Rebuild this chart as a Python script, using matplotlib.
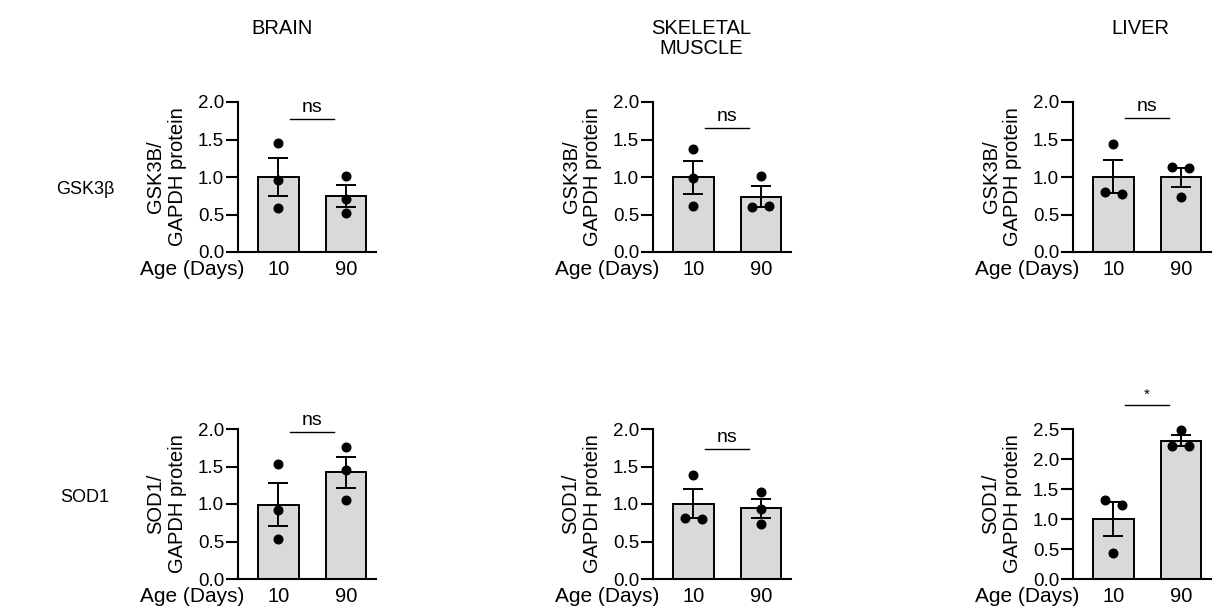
import numpy as np
import matplotlib.pyplot as plt

plt.rcParams['font.family'] = ['Liberation Sans', 'DejaVu Sans']

ages = ['10', '90']
tissues = ['BRAIN', 'SKELETAL\nMUSCLE', 'LIVER']
proteins = ['GSK3β', 'SOD1']
ylabels = ['GSK3B/\nGAPDH protein', 'SOD1/\nGAPDH protein']

# individual animals, [10 days, 90 days]
gsk_brain = [[1.46, 0.96, 0.59], [1.02, 0.71, 0.52]]
gsk_muscle = [[1.38, 0.99, 0.62], [1.01, 0.60, 0.61]]
gsk_liver = [[1.44, 0.80, 0.78], [1.13, 1.12, 0.74]]
sod_brain = [[1.53, 0.92, 0.53], [1.76, 1.46, 1.05]]
sod_muscle = [[1.39, 0.82, 0.80], [1.16, 0.94, 0.73]]
sod_liver = [[1.32, 1.24, 0.43], [2.48, 2.21, 2.22]]

data = [[gsk_brain, gsk_muscle, gsk_liver],
        [sod_brain, sod_muscle, sod_liver]]
signif = [['ns', 'ns', 'ns'], ['ns', 'ns', '*']]
bracket_y = [[1.77, 1.66, 1.79], [1.96, 1.73, 2.90]]
ymax = [[2.0, 2.0, 2.0], [2.0, 2.0, 2.5]]

W, H = 1213, 612
fig = plt.figure(figsize=(W / 100, H / 100), dpi=100)

lefts = [238, 653, 1073]
bottoms = [252, 579]
ax_w, ax_h = 138, 150
fs = 13.5

for r in range(2):
    for c in range(3):
        ax = fig.add_axes([lefts[c] / W, 1 - bottoms[r] / H, ax_w / W, ax_h / H])
        groups = data[r][c]
        top = ymax[r][c]
        means = [np.mean(g) for g in groups]
        sems = [np.std(g, ddof=1) / np.sqrt(len(g)) for g in groups]
        x = np.arange(len(groups))

        ax.bar(x, means, width=0.6, color='#d9d9d9', edgecolor='black',
               linewidth=1.4, zorder=1)
        ax.errorbar(x, means, yerr=sems, fmt='none', ecolor='black',
                    elinewidth=1.4, capsize=7.5, capthick=1.4, zorder=2)

        # spread points sideways when they would overlap
        for i, g in enumerate(groups):
            offs = np.zeros(len(g))
            for a in range(len(g)):
                for b in range(a + 1, len(g)):
                    if abs(g[a] - g[b]) / top < 0.06:
                        offs[a], offs[b] = -0.125, 0.125
            ax.plot(i + offs, g, 'o', color='black', markersize=6.2,
                    zorder=3, clip_on=False)

        by = bracket_y[r][c]
        ax.plot([0.5 - 0.33, 0.5 + 0.33], [by, by], color='black', lw=1.0,
                clip_on=False)
        ax.annotate(signif[r][c], (0.5, by), xytext=(0, 2),
                    textcoords='offset points', ha='center', va='bottom',
                    fontsize=14 if signif[r][c] == 'ns' else 11,
                    annotation_clip=False)

        ax.set_xlim(-0.6, 1.45)
        ax.set_ylim(0, top)
        ax.set_yticks(np.arange(0, top + 0.01, 0.5))
        ax.set_yticklabels([f'{v:.1f}' for v in np.arange(0, top + 0.01, 0.5)])
        ax.set_xticks(x)
        ax.set_xticklabels(ages)
        for s in ['top', 'right']:
            ax.spines[s].set_visible(False)
        for s in ['left', 'bottom']:
            ax.spines[s].set_linewidth(1.5)
        ax.tick_params(axis='y', length=9, width=1.5, pad=1, labelsize=fs)
        ax.tick_params(axis='x', length=0, pad=6, labelsize=14.5)
        ax.set_ylabel(ylabels[r], fontsize=14.5, labelpad=8, linespacing=1.15)
        ax.annotate('Age (Days)', (-0.5, 0), xycoords=ax.get_xaxis_transform(),
                    xytext=(0, -6), textcoords='offset points', ha='right',
                    va='top', fontsize=15)

title_x = [282, 701, 1140]
for c in range(3):
    fig.text(title_x[c] / W, 1 - 19 / H, tissues[c], ha='center', va='top',
             fontsize=14.5, linespacing=1.05)

row_y = [190, 497]
for r in range(2):
    fig.text(85 / W, 1 - row_y[r] / H, proteins[r], ha='center', va='center',
             fontsize=13)

fig.savefig('out.png', dpi=100)
